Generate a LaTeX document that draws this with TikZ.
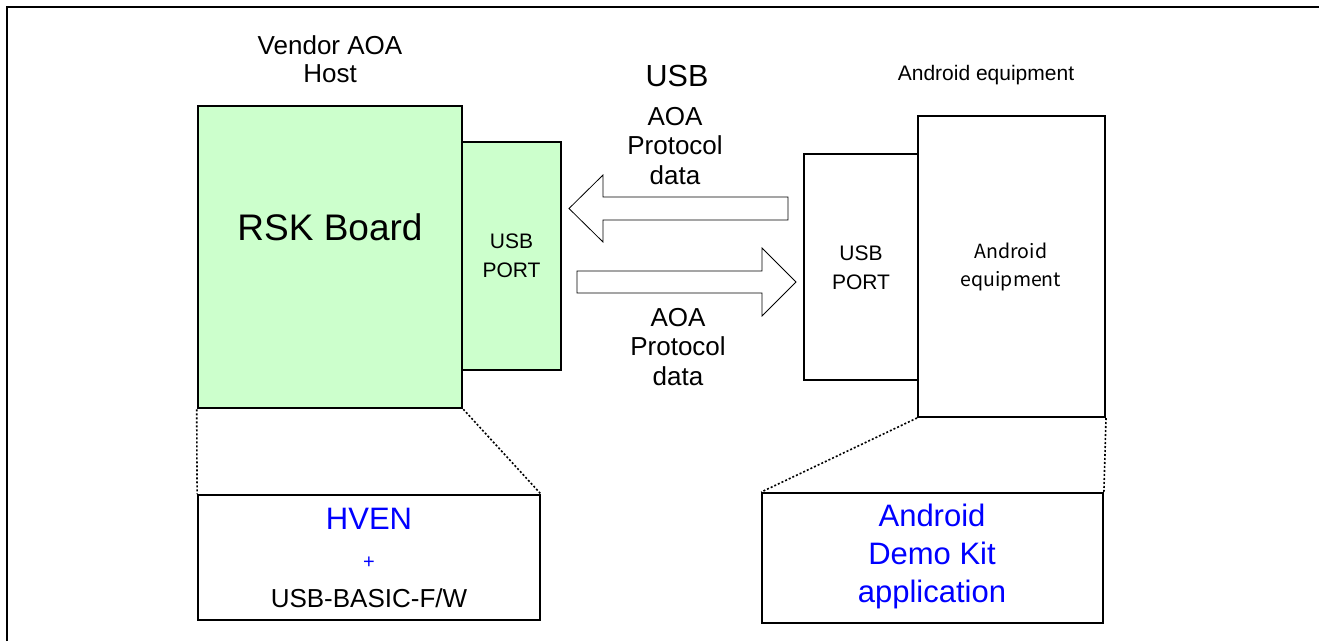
\documentclass[tikz,border=0pt]{standalone}
\usepackage{fontspec}
\setmainfont{Liberation Sans}
\newfontfamily\jpfont{Noto Sans CJK JP}
\usepackage{tikz}
\definecolor{boardgreen}{RGB}{204,255,204}
\definecolor{fwblue}{RGB}{0,0,255}

\begin{document}
\begin{tikzpicture}[x=1pt, y=-1pt,
  every node/.style={inner sep=0pt, align=center},
  box/.style={draw, line width=2pt, rectangle},
  greenbox/.style={box, fill=boardgreen, line width=2.6pt},
  txt/.style={font=\fontsize{26}{29.5}\selectfont},
  small/.style={font=\fontsize{21}{29}\selectfont},
  swbox/.style={box, line width=1.8pt},
  link/.style={dash pattern=on 2pt off 2pt, line width=1.6pt},
  blockarrow/.style={draw, line width=0.8pt, fill=white}]
  \useasboundingbox (0,0) rectangle (1319,641);
  \draw[line width=2.6pt] (7,641) -- (7,7) -- (1319,7);

  % host side
  \node (rsk) [greenbox, minimum width=264pt, minimum height=302pt] at (330,257) {};
  \node (hostport) [greenbox, minimum width=99pt, minimum height=228pt] at (511.5,256) {};
  \node (rsklabel) [font=\fontsize{37}{40}\selectfont] at (330,227) {RSK Board};
  \node (hostportlabel) [small] at (511.5,256) {USB\\PORT};
  \node (hosttitle) [font=\fontsize{26}{28}\selectfont] at (330,59) {Vendor AOA\\Host};

  % android side
  \node (androidport) [box, minimum width=114pt, minimum height=226pt] at (861,267) {};
  \node (android) [box, minimum width=187pt, minimum height=301pt] at (1011.5,266.5) {};
  \node (androidportlabel) [small] at (861,268) {USB\\PORT};
  \node (androidlabel) [font=\jpfont\fontsize{19.5}{28.5}\selectfont] at (1011,267) {Android\\equipment};
  \node (androidtitle) [font=\fontsize{21}{24}\selectfont] at (986,75) {Android equipment};

  % usb link
  \node (usbtitle) [font=\fontsize{30.5}{34}\selectfont] at (677,76) {USB};
  \node (uptext) [txt] at (675,146) {AOA\\Protocol\\data};
  \node (downtext) [txt] at (678,347) {AOA\\Protocol\\data};
  \draw[blockarrow] (788,197) -- (603,197) -- (603,175) -- (569,208.5) -- (603,242)
    -- (603,220) -- (788,220) -- cycle;
  \draw[blockarrow] (577,271) -- (762,271) -- (762,248) -- (796,282) -- (762,316)
    -- (762,293) -- (577,293) -- cycle;

  % firmware
  \node (hven) [swbox, minimum width=342pt, minimum height=125pt] at (369,557.5) {};
  \node (hvenlabel) [text=fwblue, font=\fontsize{31}{34}\selectfont] at (369,519) {HVEN};
  \node (plus) [text=fwblue, font=\fontsize{20}{22}\selectfont] at (369,563) {+};
  \node (basic) [font=\fontsize{26}{28}\selectfont] at (369,598) {USB-BASIC-F/W};
  \node (demokit) [swbox, minimum width=341pt, minimum height=130pt] at (932.5,558) {};
  \node (demolabel) [text=fwblue, font=\fontsize{31}{38}\selectfont] at (932,556) {Android\\Demo Kit\\application};

  \draw[link] (rsk.south west) -- (hven.north west);
  \draw[link] (rsk.south east) -- (hven.north east);
  \draw[link] (android.south west) -- (demokit.north west);
  \draw[link] (android.south east) -- (demokit.north east);
\end{tikzpicture}
\end{document}
